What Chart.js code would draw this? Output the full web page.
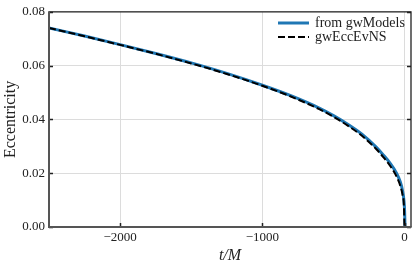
<!DOCTYPE html>
<html>
<head>
<meta charset="utf-8">
<script src="https://cdn.jsdelivr.net/npm/chart.js@4"></script>
<style>
  html, body { margin: 0; padding: 0; background: #fff; }
  #box { width: 416px; height: 266px; }
</style>
</head>
<body>
<div id="box"><canvas id="ecc-chart"></canvas></div>
<script>
// data
const timeModels = [-2500, -2250, -2000, -1750, -1500, -1250, -1000, -800, -600, -500, -400, -300, -200, -150, -100, -60, -30, -15, -5, 0, 3];
const eccModels = [0.0740, 0.0710, 0.0678, 0.0645, 0.0610, 0.0571, 0.0527, 0.0488, 0.0442, 0.0414, 0.0382, 0.0345, 0.0297, 0.0268, 0.0236, 0.0203, 0.0167, 0.0136, 0.0100, 0.0060, 0.0];
const timeEvNS = [-2500, -2250, -2000, -1750, -1500, -1250, -1000, -800, -600, -500, -400, -300, -200, -150, -100, -60, -30, -15, -5, -1];
const eccEvNS = [0.0740, 0.0709, 0.0677, 0.0644, 0.0608, 0.0569, 0.0525, 0.0485, 0.0438, 0.0410, 0.0377, 0.0339, 0.0290, 0.0260, 0.0226, 0.0191, 0.0153, 0.0121, 0.0080, 0.0];
const xTicks = [-2000, -1000, 0];
const yTicks = [0.00, 0.02, 0.04, 0.06, 0.08];
const seriesNames = ['from gwModels', 'gwEccEvNS'];

const serif = "'Liberation Serif', 'DejaVu Serif', serif";

const toPoints = (xs, ys) => xs.map((x, i) => ({ x: x, y: ys[i] }));

// spines, inward ticks and legend (matplotlib look)
const framePlugin = {
    id: 'frame',
    afterDatasetsDraw(chart) {
        const ctx = chart.ctx;
        const a = chart.chartArea;
        const xs = chart.scales.x;
        const ys = chart.scales.y;
        ctx.save();
        // ticks
        ctx.strokeStyle = '#222';
        ctx.lineWidth = 1.5;
        xTicks.forEach(v => {
            const px = Math.round(xs.getPixelForValue(v)) + 0.5;
            ctx.beginPath();
            ctx.moveTo(px, a.bottom);
            ctx.lineTo(px, a.bottom - 4);
            ctx.stroke();
        });
        yTicks.forEach(v => {
            const py = Math.round(ys.getPixelForValue(v)) + 0.5;
            ctx.beginPath();
            ctx.moveTo(a.left, py);
            ctx.lineTo(a.left + 4, py);
            ctx.moveTo(a.right, py);
            ctx.lineTo(a.right - 4, py);
            ctx.stroke();
        });
        // spines
        ctx.lineWidth = 1.3;
        ctx.strokeStyle = '#222';
        ctx.beginPath();
        ctx.moveTo(a.left, a.top);
        ctx.lineTo(a.right, a.top);
        ctx.lineTo(a.right, a.bottom);
        ctx.stroke();
        ctx.lineWidth = 2;
        ctx.strokeStyle = '#555';
        ctx.beginPath();
        ctx.moveTo(a.left, a.top - 0.6);
        ctx.lineTo(a.left, a.bottom);
        ctx.lineTo(a.right + 0.6, a.bottom);
        ctx.stroke();

        // legend
        const lx = 278, lw = 31, tx = 315;
        const rows = [23, 37];
        chart.data.datasets.forEach((ds, i) => {
            ctx.strokeStyle = ds.borderColor;
            ctx.lineWidth = ds.borderWidth;
            ctx.setLineDash(ds.borderDash || []);
            ctx.beginPath();
            ctx.moveTo(lx, rows[i]);
            ctx.lineTo(lx + lw, rows[i]);
            ctx.stroke();
            ctx.setLineDash([]);
            ctx.fillStyle = '#222';
            ctx.font = '14px ' + serif;
            ctx.textBaseline = 'middle';
            ctx.textAlign = 'left';
            ctx.fillText(ds.label, tx, rows[i]);
        });
        ctx.restore();
    }
};

new Chart(document.getElementById('ecc-chart'), {
    type: 'line',
    data: {
        datasets: [{
            label: seriesNames[0],
            data: toPoints(timeModels, eccModels),
            borderColor: '#1f77b4',
            borderWidth: 3,
            pointRadius: 0,
            cubicInterpolationMode: 'monotone',
            fill: false,
            order: 2
        }, {
            label: seriesNames[1],
            data: toPoints(timeEvNS, eccEvNS),
            borderColor: '#000',
            borderWidth: 2,
            borderDash: [7, 3],
            pointRadius: 0,
            cubicInterpolationMode: 'monotone',
            fill: false,
            order: 1
        }]
    },
    options: {
        responsive: true,
        maintainAspectRatio: false,
        animation: false,
        layout: { padding: { top: 8, right: 5, left: 0, bottom: 0 } },
        plugins: {
            legend: { display: false },
            tooltip: { enabled: false }
        },
        scales: {
            x: {
                type: 'linear',
                min: -2500,
                max: 45,
                afterBuildTicks: s => { s.ticks = xTicks.map(v => ({ value: v })); },
                afterFit: s => { s.height = 39; },
                grid: { color: '#dcdcdc', lineWidth: 1, drawTicks: false },
                border: { display: false },
                ticks: {
                    padding: 3,
                    color: '#222',
                    font: { family: serif, size: 13 },
                    maxRotation: 0,
                    callback: v => (v < 0 ? '\u2212' + Math.abs(v) : String(v))
                },
                title: {
                    display: true,
                    text: 't/M',
                    color: '#222',
                    font: { family: serif, size: 16, style: 'italic' },
                    padding: { top: 1, bottom: 1 }
                }
            },
            y: {
                min: 0,
                max: 0.08,
                afterBuildTicks: s => { s.ticks = yTicks.map(v => ({ value: v })); },
                afterFit: s => { s.width = 49; },
                grid: { color: '#dcdcdc', lineWidth: 1, drawTicks: false },
                border: { display: false },
                ticks: {
                    padding: 4,
                    color: '#222',
                    font: { family: serif, size: 13 },
                    callback: v => v.toFixed(2)
                },
                title: {
                    display: true,
                    text: 'Eccentricity',
                    color: '#222',
                    font: { family: serif, size: 16 },
                    padding: { top: 1, bottom: 1 }
                }
            }
        }
    },
    plugins: [framePlugin]
});
</script>
</body>
</html>
